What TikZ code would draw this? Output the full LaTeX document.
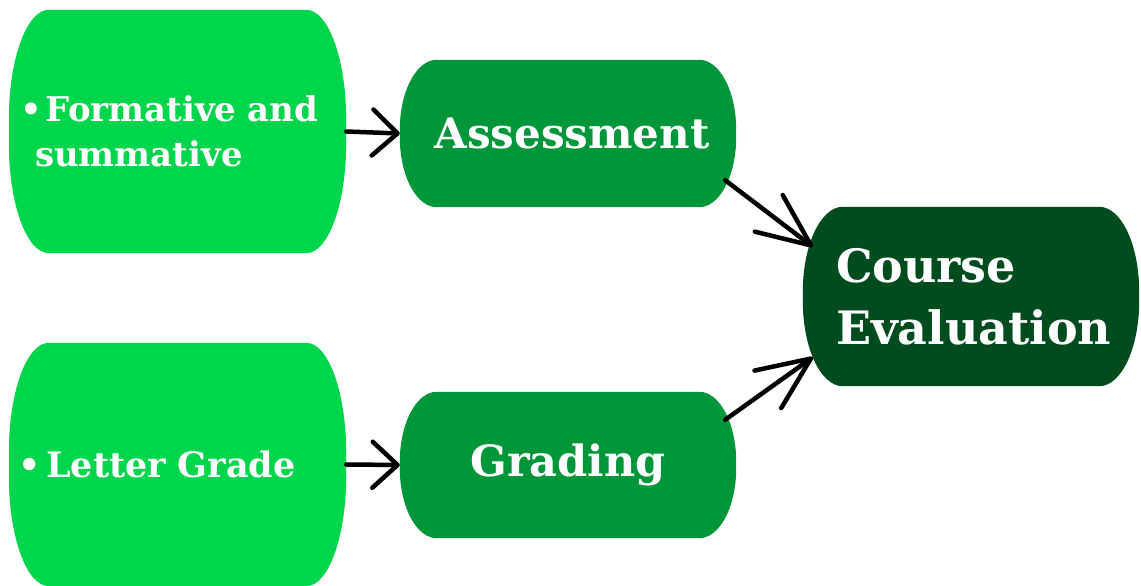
\documentclass[tikz,border=0pt]{standalone}
\usepackage{fontspec}
\newfontfamily\slab{DejaVu Serif}
\usetikzlibrary{arrows.meta,backgrounds,calc}
\definecolor{lightg}{RGB}{0,214,76}
\definecolor{midg}{RGB}{0,150,57}
\definecolor{darkg}{RGB}{1,76,31}
\newcommand\pillfill[4]{%
  \fill[#4] ([xshift=#2]#1.north west) -- ([xshift=-#2]#1.north east)
    arc[start angle=90,end angle=0,x radius=#2,y radius=#3]
    -- ([yshift=#3]#1.south east)
    arc[start angle=0,end angle=-90,x radius=#2,y radius=#3]
    -- ([xshift=#2]#1.south west)
    arc[start angle=270,end angle=180,x radius=#2,y radius=#3]
    -- ([yshift=-#3]#1.north west)
    arc[start angle=180,end angle=90,x radius=#2,y radius=#3] -- cycle;}
\begin{document}
\begin{tikzpicture}[x=1pt,y=1pt,
  boxn/.style={inner sep=0pt, text=white, font=\slab\bfseries, align=left},
  conn/.style={line width=4.5pt, line cap=round, line join=round},
  smallhead/.style={conn, -{Straight Barb[length=25pt,width=46pt,line cap=round,line join=round]}},
  bighead/.style={conn, -{Straight Barb[length=53pt,width=46pt,line cap=round,line join=round]}}]
\useasboundingbox (0,0) rectangle (1141,586);
\node[boxn, minimum width=337, minimum height=243, text width=315,
  font=\slab\bfseries\fontsize{34}{45}\selectfont] (form) at (177.5,454.5)
  {\textbullet\hspace{4pt}Formative and\\\hspace*{15pt}summative};
\node[boxn, minimum width=337, minimum height=243, text width=317,
  font=\slab\bfseries\fontsize{35}{45}\selectfont] (letter) at (177.5,121.5)
  {\textbullet\hspace{5pt}Letter Grade};
\node[boxn, minimum width=336, minimum height=147, align=center,
  font=\slab\bfseries\fontsize{42}{50}\selectfont] (assess) at (568,452.5) {\hspace*{8pt}Assessment};
\node[boxn, minimum width=336, minimum height=146, align=center,
  font=\slab\bfseries\fontsize{43}{50}\selectfont] (grade) at (568,121) {Grading};
\node[boxn, minimum width=336, minimum height=179, text width=270,
  font=\slab\bfseries\fontsize{46}{62}\selectfont] (course) at (971,289.5) {Course\\Evaluation\\[-5pt]};
\begin{scope}[on background layer]
  \pillfill{form}{40}{110}{lightg}
  \pillfill{letter}{40}{110}{lightg}
  \pillfill{assess}{37}{70}{midg}
  \pillfill{grade}{37}{70}{midg}
  \pillfill{course}{40}{85}{darkg}
\end{scope}
\draw[smallhead] (form.east) -- (assess.west);
\draw[smallhead] (letter.east) -- (grade.west);
\draw[bighead] ([shift={(-11,27)}]assess.south east) -- ([shift={(10,-40)}]course.north west);
\draw[bighead] ([shift={(-11,-28)}]grade.north east) -- ([shift={(10,29)}]course.south west);
\end{tikzpicture}
\end{document}
